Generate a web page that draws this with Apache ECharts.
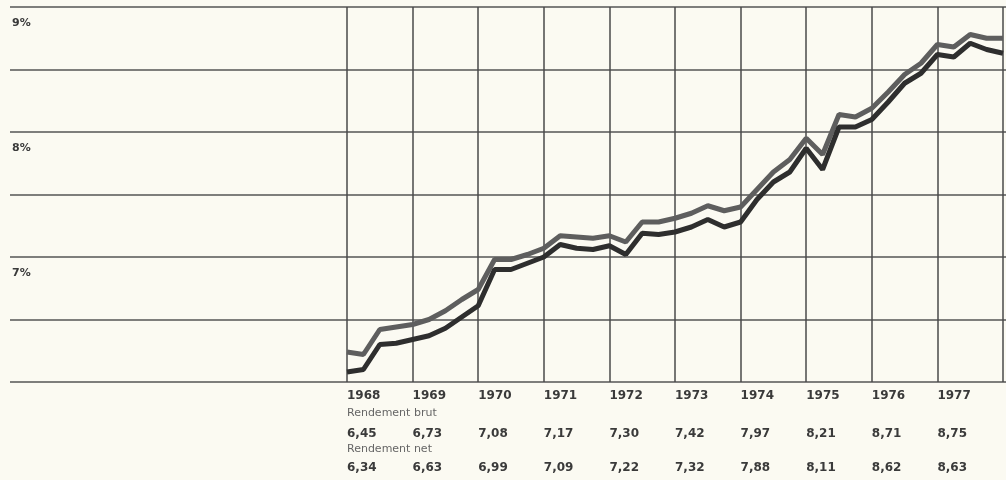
<!DOCTYPE html>
<html>
<head>
<meta charset="utf-8">
<script src="https://cdn.jsdelivr.net/npm/echarts@6/dist/echarts.min.js"></script>
<style>
  html, body { margin: 0; padding: 0; background: #fbfaf2; }
  #chart { width: 1006px; height: 480px; }
</style>
</head>
<body>
<div id="chart"></div>
<script>
// years and the annual figures printed under the chart
var years = [1968, 1969, 1970, 1971, 1972, 1973, 1974, 1975, 1976, 1977];
var brutAnnual = ['6,45', '6,73', '7,08', '7,17', '7,30', '7,42', '7,97', '8,21', '8,71', '8,75'];
var netAnnual = ['6,34', '6,63', '6,99', '7,09', '7,22', '7,32', '7,88', '8,11', '8,62', '8,63'];
var pctTicks = [7, 8, 9];

// quarterly readings, 1968 Q1 .. 1978
var brutQuarterly = [6.24, 6.22, 6.42, 6.44, 6.46, 6.50, 6.57, 6.66, 6.74, 6.98,
	6.98, 7.02, 7.07, 7.17, 7.16, 7.15, 7.17, 7.12, 7.28, 7.28,
	7.31, 7.35, 7.41, 7.37, 7.40, 7.54, 7.68, 7.78, 7.95, 7.82,
	8.14, 8.12, 8.19, 8.32, 8.46, 8.55, 8.70, 8.68, 8.78, 8.75, 8.75];
var netQuarterly = [6.08, 6.10, 6.30, 6.31, 6.34, 6.37, 6.43, 6.52, 6.61, 6.90,
	6.90, 6.95, 7.00, 7.10, 7.07, 7.06, 7.09, 7.02, 7.19, 7.18,
	7.20, 7.24, 7.30, 7.24, 7.28, 7.46, 7.60, 7.68, 7.87, 7.70,
	8.04, 8.04, 8.10, 8.24, 8.39, 8.47, 8.62, 8.60, 8.71, 8.66, 8.63];

function toPoints(arr) {
	return arr.map(function (v, k) { return [years[0] + k / 4, v]; });
}

function yearIndex(v) {
	var i = Math.round(v) - years[0];
	return (i >= 0 && i < years.length) ? i : -1;
}

var FONT = 'DejaVu Sans';
var INK = '#3a3a3a';

function rowAxis(offset, fmt, bold, size) {
	return {
		type: 'value', gridIndex: 1, position: 'bottom', offset: offset,
		min: 1968, max: 1978, interval: 1,
		axisLine: { show: false }, axisTick: { show: false }, splitLine: { show: false },
		axisLabel: {
			show: true, align: 'left', margin: 6, showMaxLabel: true, showMinLabel: true,
			color: bold ? INK : '#666', fontFamily: FONT, fontSize: size,
			fontWeight: bold ? 'bold' : 'normal',
			formatter: fmt
		}
	};
}

var chart = echarts.init(document.getElementById('chart'));
var option = {
	backgroundColor: '#fbfaf2',
	animation: false,
	grid: [
		{ left: 10, right: 0, top: 7, bottom: 98 },
		{ left: 347, right: 3, top: 7, bottom: 98 }
	],
	xAxis: [
		{ type: 'value', gridIndex: 0, min: 0, max: 1, show: false },
		{
			type: 'value', gridIndex: 1, position: 'bottom',
			min: 1968, max: 1978, interval: 1,
			axisLine: { show: false }, axisTick: { show: false },
			splitLine: { show: true, lineStyle: { color: '#4a4a4a', width: 1.5 } },
			axisLabel: {
				align: 'left', margin: 8, showMaxLabel: true,
				color: INK, fontFamily: FONT, fontSize: 12, fontWeight: 'bold',
				formatter: function (v) { var i = yearIndex(v); return i < 0 ? '' : String(years[i]); }
			}
		},
		rowAxis(20, function (v) { return yearIndex(v) === 0 ? 'Rendement brut' : ''; }, false, 11),
		rowAxis(40, function (v) { var i = yearIndex(v); return i < 0 ? '' : brutAnnual[i]; }, true, 12),
		rowAxis(56, function (v) { return yearIndex(v) === 0 ? 'Rendement net' : ''; }, false, 11),
		rowAxis(74, function (v) { var i = yearIndex(v); return i < 0 ? '' : netAnnual[i]; }, true, 12)
	],
	yAxis: [
		{
			type: 'value', gridIndex: 0, min: 6, max: 9, interval: 0.5,
			axisLine: { show: false }, axisTick: { show: false },
			splitLine: { show: true, lineStyle: { color: '#555', width: 1.5 } },
			axisLabel: {
				inside: true, margin: 2, verticalAlign: 'top', padding: [11, 0, 0, 0],
				showMaxLabel: true,
				color: INK, fontFamily: FONT, fontSize: 11, fontWeight: 'bold',
				formatter: function (v) { return pctTicks.indexOf(v) >= 0 ? v + '%' : ''; }
			}
		},
		{ type: 'value', gridIndex: 1, min: 6, max: 9, interval: 0.5, show: false }
	],
	series: [
		{
			name: 'Rendement brut', type: 'line', xAxisIndex: 1, yAxisIndex: 1,
			symbol: 'none', lineStyle: { color: '#5e5e5e', width: 5 },
			data: toPoints(brutQuarterly)
		},
		{
			name: 'Rendement net', type: 'line', xAxisIndex: 1, yAxisIndex: 1,
			symbol: 'none', lineStyle: { color: '#2e2e2e', width: 5 },
			data: toPoints(netQuarterly)
		}
	]
};
chart.setOption(option);
</script>
</body>
</html>
